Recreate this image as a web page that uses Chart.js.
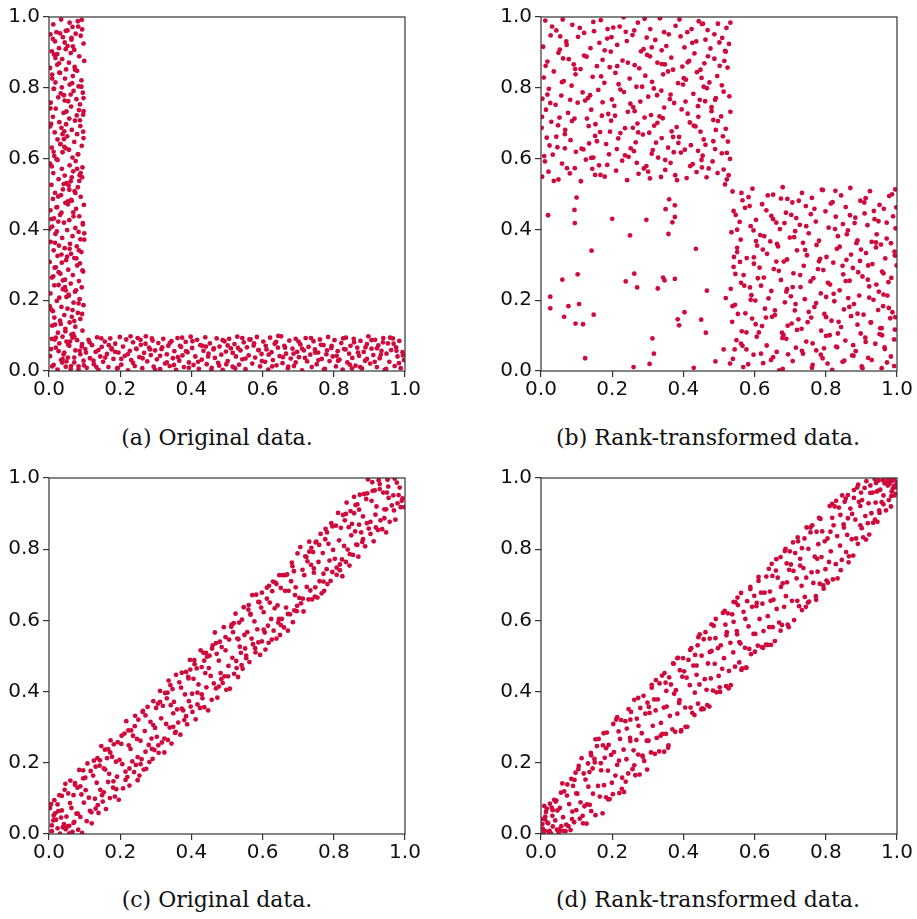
<!DOCTYPE html>
<html>
<head>
<meta charset="utf-8">
<script src="https://cdn.jsdelivr.net/npm/chart.js@4.4.0/dist/chart.umd.min.js"></script>
<style>
  html, body { margin: 0; padding: 0; background: #fff; }
  body { width: 917px; height: 919px; position: relative; overflow: hidden; }
  canvas { position: absolute; }
  .caption { position: absolute; width: 400px; text-align: center; font-family: 'DejaVu Serif', serif; font-size: 22px; line-height: 26px; color: #111; }
</style>
</head>
<body>
<canvas id="panel-a" width="424" height="410" style="left:1px;top:1px;width:424px;height:410px"></canvas>
<canvas id="panel-b" width="424" height="410" style="left:493px;top:1px;width:424px;height:410px"></canvas>
<canvas id="panel-c" width="424" height="412" style="left:1px;top:462px;width:424px;height:412px"></canvas>
<canvas id="panel-d" width="424" height="412" style="left:493px;top:462px;width:424px;height:412px"></canvas>
<script>
const RED = '#cf0a3c';
const AXIS = '#333';
const tickValues = [0, 0.2, 0.4, 0.6, 0.8, 1.0];
const captions = ['(a) Original data.', '(b) Rank-transformed data.', '(c) Original data.', '(d) Rank-transformed data.'];

// x,y pairs
// (a) original data: the upright strip and the flat strip
const aVertical = [
.034,.993, .081,.988, .012,.979, .066,.972, .093,.965, .047,.961, .021,.957, .075,.953, .058,.984, .004,.951,
.089,.947, .039,.943, .063,.936, .017,.931, .097,.925, .052,.918, .028,.912, .071,.907, .008,.903, .044,.928,
.061,.898, .014,.894, .085,.889, .037,.881, .099,.876, .056,.871, .023,.865, .072,.859, .003,.856, .048,.852,
.079,.848, .031,.842, .009,.837, .067,.833, .045,.826, .091,.821, .018,.815, .058,.809, .083,.804, .036,.801,
.013,.797, .069,.791, .095,.786, .042,.779, .026,.773, .077,.768, .054,.762, .005,.758, .087,.753, .033,.784,
.062,.747, .019,.741, .084,.737, .041,.729, .096,.724, .011,.718, .057,.713, .073,.707, .029,.703, .049,.733,
.006,.698, .088,.692, .035,.687, .064,.681, .016,.674, .079,.669, .051,.663, .097,.658, .024,.654, .043,.677,
.071,.647, .032,.641, .092,.636, .008,.631, .056,.625, .038,.618, .082,.612, .015,.607, .066,.603, .047,.629,
.021,.598, .075,.593, .003,.586, .058,.581, .094,.575, .036,.571, .068,.564, .012,.559, .086,.553, .044,.552,
.093,.547, .027,.542, .061,.536, .049,.531, .007,.526, .081,.519, .039,.513, .072,.508, .017,.503, .055,.524,
.034,.497, .089,.492, .011,.486, .064,.481, .046,.475, .098,.469, .023,.463, .076,.458, .004,.454, .053,.479,
.068,.448, .031,.441, .085,.437, .014,.431, .057,.426, .042,.419, .095,.414, .009,.408, .074,.404, .026,.422,
.051,.398, .083,.393, .018,.387, .066,.381, .037,.376, .099,.371, .005,.365, .059,.359, .028,.354, .078,.352,
.044,.347, .013,.341, .091,.336, .062,.331, .024,.325, .071,.319, .048,.313, .002,.308, .087,.304, .035,.329,
.079,.298, .019,.293, .054,.286, .096,.281, .032,.275, .067,.271, .008,.264, .045,.258, .084,.254, .027,.279,
.061,.247, .015,.242, .092,.236, .039,.231, .073,.224, .004,.219, .056,.213, .029,.207, .086,.203, .047,.228,
.022,.198, .069,.193, .097,.186, .035,.181, .052,.176, .011,.169, .081,.164, .043,.158, .064,.153, .006,.174,
.088,.147, .031,.142, .058,.137, .017,.131, .074,.125, .046,.119, .094,.114, .025,.108, .063,.103, .009,.128,
.052,.962, .018,.884, .091,.803, .067,.917, .004,.742, .038,.669, .079,.571, .026,.493, .095,.418, .058,.345,
.012,.267, .083,.191, .046,.112, .071,.038, .031,.954, .009,.826, .087,.708, .043,.633, .064,.547, .021,.462,
.099,.389, .036,.306, .076,.228, .015,.151, .054,.074, .092,.992, .028,.869, .061,.781, .003,.691, .081,.612,
.041,.528, .069,.437, .017,.362, .094,.284, .049,.209, .033,.133, .086,.057, .011,.938, .073,.851, .044,.764,
.096,.676, .024,.596, .057,.512, .007,.429, .084,.341, .039,.256, .066,.172, .019,.094, .098,.016, .047,.909,
.014,.797, .078,.722, .032,.641, .089,.559, .062,.483, .001,.401, .051,.323, .027,.243, .093,.161, .059,.083,
.037,.024, .082,.973, .023,.895, .065,.813, .097,.734, .042,.655, .008,.578, .074,.503, .035,.447, .088,.372,
.016,.292, .055,.216, .071,.141, .006,.062, .063,.941, .029,.843, .097,.771, .048,.697, .013,.619, .085,.537,
.053,.471, .022,.394, .077,.318, .045,.237, .002,.183, .068,.105, .041,.047
];
const aHorizontal = [
.003,.042, .008,.091, .013,.017, .019,.066, .024,.004, .029,.078, .034,.031, .038,.097, .043,.052, .047,.012, .049,.083,
.053,.038, .057,.071, .061,.006, .066,.094, .071,.024, .074,.058, .079,.087, .083,.013, .088,.047, .093,.076, .097,.029,
.102,.062, .106,.009, .111,.088, .115,.036, .121,.073, .126,.019, .131,.054, .135,.095, .139,.003, .144,.041, .148,.068,
.152,.026, .157,.083, .163,.048, .167,.011, .172,.092, .176,.061, .181,.034, .186,.077, .191,.007, .195,.052, .199,.096,
.203,.018, .208,.069, .213,.043, .217,.089, .222,.002, .227,.057, .231,.031, .236,.081, .241,.014, .245,.063, .249,.093,
.254,.039, .258,.074, .262,.008, .267,.051, .272,.098, .276,.027, .281,.066, .286,.045, .291,.086, .294,.012, .298,.058,
.303,.033, .307,.079, .312,.005, .316,.062, .321,.091, .326,.021, .331,.047, .335,.071, .339,.014, .344,.084, .348,.036,
.352,.056, .357,.003, .361,.093, .366,.029, .371,.068, .375,.044, .379,.011, .384,.082, .389,.053, .393,.024, .398,.097,
.402,.065, .406,.017, .411,.041, .416,.088, .421,.006, .425,.073, .429,.032, .434,.057, .439,.095, .443,.019, .448,.049,
.452,.078, .457,.009, .462,.061, .466,.037, .471,.092, .475,.023, .479,.069, .484,.046, .488,.003, .493,.084, .497,.055,
.502,.028, .506,.091, .511,.064, .516,.012, .521,.076, .525,.041, .529,.097, .534,.018, .538,.058, .543,.033, .547,.081,
.552,.005, .556,.067, .561,.044, .566,.089, .571,.021, .575,.072, .579,.038, .584,.096, .588,.059, .593,.013, .597,.048,
.602,.083, .607,.026, .611,.061, .616,.004, .621,.094, .625,.053, .629,.031, .634,.077, .639,.016, .643,.066, .648,.042,
.652,.098, .656,.022, .661,.071, .666,.049, .671,.008, .675,.086, .679,.035, .684,.063, .688,.014, .693,.091, .697,.054,
.702,.039, .706,.075, .711,.002, .716,.058, .721,.093, .725,.027, .729,.068, .734,.046, .738,.011, .743,.084, .747,.061,
.752,.019, .756,.052, .761,.089, .766,.034, .771,.073, .775,.006, .779,.047, .784,.096, .788,.028, .793,.065, .797,.041,
.802,.087, .806,.013, .811,.056, .816,.032, .821,.079, .825,.004, .829,.062, .834,.094, .838,.024, .843,.049, .847,.071,
.852,.037, .856,.091, .861,.015, .866,.066, .871,.043, .875,.085, .879,.007, .884,.054, .888,.029, .893,.076, .897,.098,
.902,.021, .906,.063, .911,.045, .916,.088, .921,.011, .925,.072, .929,.036, .934,.057, .939,.093, .943,.003, .948,.049,
.952,.078, .956,.026, .961,.059, .966,.092, .971,.014, .975,.067, .979,.041, .984,.085, .988,.008, .993,.053, .997,.031,
.027,.056, .114,.081, .236,.023, .318,.067, .447,.041, .563,.089, .672,.012, .781,.058, .893,.034, .968,.077,
.071,.097, .158,.038, .284,.061, .393,.009, .502,.072, .617,.046, .736,.093, .845,.018, .921,.064, .049,.027,
.186,.054, .257,.088, .362,.039, .478,.015, .589,.059, .701,.083, .808,.043, .947,.006, .092,.069, .133,.011,
.221,.047, .339,.079, .419,.026, .531,.065, .644,.099, .757,.031, .868,.052, .983,.022, .016,.089, .168,.073,
.298,.003, .374,.094, .463,.064, .598,.028, .687,.049, .794,.071, .906,.087, .062,.014, .203,.034, .271,.077,
.351,.017, .488,.087, .552,.035, .663,.066, .772,.004, .857,.081, .932,.046, .104,.052, .194,.009, .312,.043,
.431,.071, .516,.051, .627,.013, .719,.037, .833,.061, .958,.094, .038,.034, .147,.092, .246,.062, .385,.056,
.456,.002, .576,.078, .693,.024, .812,.029, .889,.067, .994,.044, .083,.004, .176,.064, .263,.036, .403,.084,
.523,.007, .609,.071, .748,.052, .874,.011, .915,.026, .125,.029, .229,.098, .331,.024, .441,.069, .543,.093,
.657,.039, .764,.074, .826,.092, .976,.057, .009,.013, .139,.059, .289,.092, .368,.071, .498,.019, .638,.082,
.711,.063, .851,.007, .938,.081
];

// (b) rank-transformed data: two dense blocks and the sparse corner
const bUpperLeft = [
.012,.990, .043,.962, .088,.978, .121,.955, .168,.991, .203,.970, .238,.958, .272,.984, .307,.966, .334,.996, .378,.975, .411,.957, .443,.988, .468,.963, .497,.981, .521,.969, .061,.993, .149,.960, .221,.973, .359,.951, .291,.995, .452,.980,
.027,.948, .071,.931, .104,.944, .139,.912, .186,.939, .214,.921, .257,.949, .288,.909, .321,.935, .352,.918, .392,.945, .425,.927, .476,.911, .509,.941, .006,.916, .053,.908, .164,.927, .241,.932, .339,.906, .403,.914, .462,.936, .528,.924,
.018,.874, .049,.899, .092,.866, .128,.888, .157,.861, .196,.902, .229,.877, .263,.864, .298,.893, .327,.871, .366,.885, .397,.860, .431,.897, .459,.869, .487,.882, .517,.904, .078,.881, .173,.879, .281,.903, .348,.866, .416,.876, .502,.862,
.036,.846, .064,.819, .111,.853, .145,.831, .178,.814, .209,.842, .249,.826, .276,.855, .312,.817, .343,.838, .371,.851, .407,.823, .438,.844, .473,.815, .495,.833, .524,.857, .008,.829, .097,.838, .193,.858, .293,.834, .385,.813, .451,.828,
.022,.797, .057,.778, .086,.806, .132,.771, .161,.794, .199,.767, .233,.788, .268,.803, .301,.775, .338,.792, .362,.768, .399,.809, .428,.783, .466,.799, .491,.771, .513,.789, .004,.769, .117,.787, .218,.810, .317,.798, .446,.766, .529,.776,
.041,.752, .076,.729, .103,.758, .141,.738, .171,.721, .206,.749, .244,.732, .279,.761, .309,.723, .346,.744, .374,.757, .412,.727, .441,.748, .479,.734, .506,.719, .014,.738, .124,.764, .189,.726, .259,.745, .333,.719, .395,.739, .461,.762,
.029,.704, .068,.681, .094,.713, .134,.692, .166,.675, .197,.707, .236,.686, .271,.699, .304,.673, .342,.714, .381,.689, .418,.702, .448,.676, .484,.709, .519,.684, .002,.687, .052,.716, .153,.697, .223,.672, .318,.693, .367,.677, .434,.691,
.016,.659, .046,.632, .083,.652, .119,.626, .152,.664, .183,.641, .217,.657, .252,.629, .286,.668, .323,.645, .357,.631, .388,.661, .421,.638, .457,.654, .489,.627, .525,.648, .067,.669, .135,.643, .266,.646, .339,.658, .404,.625, .511,.663,
.033,.611, .059,.586, .098,.619, .126,.597, .163,.581, .191,.612, .228,.594, .261,.621, .296,.579, .329,.603, .364,.588, .393,.617, .426,.584, .454,.608, .482,.592, .508,.615, .011,.592, .147,.603, .246,.605, .311,.614, .441,.622, .531,.599,
.021,.563, .049,.541, .081,.558, .112,.536, .144,.571, .179,.549, .211,.566, .242,.539, .274,.557, .306,.544, .349,.568, .377,.553, .409,.545, .437,.562, .465,.547, .496,.559, .522,.541, .003,.549, .167,.554, .289,.572, .452,.575, .513,.569,
.031,.973, .147,.986, .262,.962, .389,.993, .487,.951, .072,.921, .198,.943, .311,.914, .436,.931, .519,.902,
.013,.862, .121,.891, .244,.871, .357,.846, .469,.889, .059,.816, .169,.832, .284,.803, .401,.827, .508,.807,
.026,.757, .138,.779, .251,.755, .364,.781, .479,.745, .087,.706, .208,.721, .327,.701, .442,.718, .532,.732,
.043,.662, .157,.649, .273,.674, .386,.644, .491,.681, .009,.607, .114,.628, .236,.609, .349,.596, .462,.639,
.073,.573, .186,.582, .301,.563, .419,.579, .527,.553, .054,.945, .179,.906, .297,.942, .412,.872, .501,.928,
.096,.853, .223,.795, .339,.867, .457,.803, .018,.781, .129,.713, .263,.734, .371,.661, .489,.766, .067,.629,
.194,.676, .314,.624, .429,.693, .522,.616, .036,.537, .152,.554, .269,.588, .382,.539, .471,.572, .003,.718,
.109,.969, .232,.999, .346,.957, .455,.981, .082,.766, .214,.861, .326,.779, .448,.851, .515,.876, .048,.694,
.173,.759, .291,.716, .406,.761, .497,.706, .024,.637, .141,.602, .258,.687, .373,.618, .484,.649, .062,.883,
.187,.966, .306,.889, .423,.966, .532,.984, .095,.573, .213,.627, .337,.548, .451,.596, .517,.527
];
const bLowerRight = [
.538,.507, .566,.482, .594,.515, .621,.471, .652,.498, .679,.519, .706,.476, .733,.503, .761,.489, .789,.512, .814,.473, .843,.496, .869,.517, .897,.481, .924,.508, .951,.469, .978,.494, .995,.513, .583,.491, .692,.486, .827,.509, .912,.488,
.547,.441, .573,.461, .604,.427, .633,.454, .661,.419, .688,.447, .717,.432, .744,.466, .772,.422, .799,.451, .828,.436, .856,.463, .881,.418, .909,.445, .937,.429, .963,.458, .989,.437, .558,.421, .647,.438, .758,.443, .868,.440, .998,.462,
.535,.392, .561,.371, .589,.409, .616,.384, .644,.366, .671,.401, .699,.377, .727,.413, .752,.389, .781,.368, .808,.405, .834,.381, .862,.397, .889,.369, .917,.412, .943,.386, .971,.374, .996,.403, .604,.367, .714,.395, .848,.415, .929,.365,
.551,.348, .578,.319, .607,.354, .635,.331, .663,.359, .691,.315, .719,.341, .747,.327, .774,.356, .802,.322, .831,.345, .858,.314, .886,.361, .913,.333, .941,.349, .967,.318, .993,.337, .542,.322, .623,.343, .736,.362, .871,.329, .955,.357,
.541,.294, .569,.271, .598,.303, .626,.264, .654,.288, .682,.309, .709,.276, .738,.297, .765,.262, .793,.285, .821,.306, .849,.273, .876,.291, .903,.267, .931,.302, .958,.281, .984,.263, .559,.308, .668,.283, .781,.310, .891,.279, .999,.298,
.533,.232, .562,.249, .591,.214, .618,.241, .647,.226, .674,.257, .702,.211, .729,.237, .757,.253, .786,.219, .812,.244, .839,.228, .867,.255, .894,.213, .922,.239, .949,.224, .976,.251, .587,.236, .691,.231, .801,.209, .918,.258, .962,.216,
.545,.187, .574,.163, .602,.199, .629,.176, .657,.158, .685,.194, .713,.171, .741,.203, .768,.181, .796,.161, .824,.197, .851,.174, .879,.189, .906,.159, .934,.201, .961,.183, .987,.166, .553,.161, .639,.205, .752,.167, .863,.206, .947,.172,
.537,.139, .564,.112, .593,.148, .621,.127, .649,.153, .677,.108, .704,.134, .732,.119, .759,.151, .787,.114, .816,.142, .843,.124, .871,.155, .898,.106, .926,.137, .953,.121, .981,.149, .612,.109, .723,.146, .834,.106, .889,.131, .994,.117,
.549,.087, .577,.061, .606,.097, .634,.072, .662,.054, .689,.091, .716,.066, .745,.083, .773,.058, .801,.099, .829,.069, .855,.086, .884,.056, .911,.094, .939,.077, .966,.062, .992,.089, .566,.071, .681,.102, .763,.078, .877,.073, .958,.101,
.539,.034, .568,.011, .597,.046, .624,.022, .652,.039, .679,.006, .707,.028, .736,.049, .763,.017, .791,.036, .818,.003, .847,.026, .874,.044, .901,.013, .929,.031, .957,.008, .983,.041, .582,.019, .694,.047, .805,.021, .919,.037, .972,.024,
.563,.503, .674,.487, .792,.511, .908,.476, .986,.499, .541,.452, .652,.429, .768,.458, .883,.433, .971,.419,
.597,.397, .711,.378, .826,.401, .941,.363, .551,.336, .666,.352, .784,.317, .899,.343, .994,.326, .614,.292,
.728,.271, .847,.297, .962,.276, .571,.241, .689,.224, .806,.249, .922,.207, .538,.183, .657,.171, .773,.192,
.889,.162, .977,.178, .603,.132, .719,.116, .836,.139, .951,.104, .562,.077, .678,.093, .795,.064, .912,.082,
.531,.021, .646,.031, .761,.009, .878,.043, .992,.014, .586,.466, .703,.441, .819,.477, .935,.452, .627,.381,
.745,.409, .859,.386, .983,.361, .546,.274, .661,.309, .778,.288, .896,.311, .589,.201, .707,.237, .822,.218,
.942,.244, .632,.151, .749,.138, .866,.181, .995,.152, .577,.109, .693,.128, .811,.101, .927,.137, .618,.049,
.733,.057, .852,.029, .965,.067, .544,.061, .669,.002, .786,.046, .903,.008, .551,.399, .637,.496, .742,.342,
.856,.254, .973,.213, .598,.321, .715,.189, .832,.067, .948,.423, .609,.262, .724,.481, .839,.351, .957,.121,
.684,.418, .801,.152, .919,.298
];
const bCorner = [
.020,.440, .094,.455, .095,.418, .100,.490, .142,.340, .060,.258, .103,.273, .026,.210, .026,.177, .077,.183, .107,.189, .065,.153,
.097,.134, .118,.132, .148,.159, .124,.036, .200,.430, .250,.383, .262,.275, .238,.253, .270,.236, .260,.011, .296,.427, .305,.020,
.313,.092, .317,.049, .328,.233, .343,.264, .347,.256, .376,.260, .350,.457, .360,.485, .376,.468, .376,.435, .369,.420, .358,.387,
.384,.146, .388,.129, .403,.166, .435,.345, .466,.227, .450,.145, .463,.108, .429,.009, .490,.027, .513,.061, .519,.206
];

// (c) original data: the diagonal band
const cBand = [
.003,.073, .006,.084, .008,.008, .012,.038, .015,.095, .017,.058, .02,.04, .024,.016, .026,.064, .029,.109, .031,.001, .034,.046, .036,.066, .039,.019, .042,.028, .044,.124, .047,.013, .049,.049,
.051,.021, .054,.114, .057,.023, .06,.15, .063,.073, .066,.006, .069,.109, .071,.034, .073,.143, .077,.057, .08,.13, .082,.012, .085,.18, .088,.048, .091,.111, .093,.003, .096,.156, .098,.088,
.103,.123, .106,.036, .108,.198, .112,.102, .115,.065, .117,.177, .12,.03, .124,.164, .126,.206, .129,.099, .131,.071, .134,.144, .136,.213, .139,.059, .142,.192, .144,.124, .147,.247, .149,.109,
.151,.091, .154,.184, .157,.237, .16,.07, .163,.213, .166,.146, .169,.169, .171,.101, .173,.263, .177,.217, .18,.13, .182,.252, .185,.105, .188,.203, .191,.161, .193,.258, .196,.096, .198,.208,
.203,.253, .206,.196, .208,.128, .212,.282, .215,.175, .217,.317, .22,.16, .224,.249, .226,.136, .229,.239, .231,.291, .234,.204, .236,.276, .239,.174, .242,.332, .244,.194, .247,.267, .249,.151,
.251,.321, .254,.164, .257,.262, .26,.21, .263,.343, .266,.181, .269,.289, .271,.231, .273,.183, .277,.357, .28,.25, .282,.202, .285,.315, .288,.268, .291,.211, .293,.373, .296,.236, .298,.298,
.303,.273, .306,.366, .308,.228, .312,.402, .315,.325, .317,.257, .32,.36, .324,.229, .326,.396, .329,.309, .331,.381, .334,.264, .336,.431, .339,.299, .342,.362, .344,.254, .347,.407, .349,.339,
.351,.371, .354,.284, .357,.447, .36,.35, .363,.313, .366,.426, .369,.279, .371,.411, .373,.453, .377,.347, .38,.32, .382,.392, .385,.455, .388,.308, .391,.441, .393,.373, .396,.489, .398,.358,
.403,.343, .406,.436, .408,.488, .412,.322, .415,.465, .417,.397, .42,.42, .424,.354, .426,.516, .429,.469, .431,.381, .434,.509, .436,.356, .439,.452, .442,.412, .444,.498, .447,.347, .449,.466,
.451,.501, .454,.444, .457,.377, .46,.53, .463,.423, .466,.566, .469,.409, .471,.506, .473,.383, .477,.487, .48,.54, .482,.452, .485,.525, .488,.424, .491,.581, .493,.443, .496,.516, .498,.405,
.503,.443, .506,.546, .508,.408, .512,.582, .515,.495, .517,.567, .52,.45, .524,.619, .526,.486, .529,.549, .531,.441, .534,.594, .536,.526, .539,.509, .542,.602, .544,.464, .547,.637, .549,.559,
.551,.521, .554,.494, .557,.567, .56,.63, .563,.483, .566,.616, .569,.549, .571,.671, .573,.533, .577,.597, .58,.51, .582,.672, .585,.575, .588,.538, .591,.651, .593,.503, .596,.636, .598,.678,
.603,.623, .606,.566, .608,.518, .612,.692, .615,.585, .617,.537, .62,.65, .624,.604, .626,.546, .629,.709, .631,.571, .634,.634, .636,.706, .639,.549, .642,.642, .644,.594, .647,.727, .649,.559,
.651,.691, .654,.604, .657,.727, .66,.58, .663,.683, .666,.636, .669,.729, .671,.571, .673,.683, .677,.617, .68,.71, .682,.762, .685,.595, .688,.738, .691,.671, .693,.693, .696,.626, .698,.788,
.703,.663, .706,.806, .708,.648, .712,.742, .715,.625, .717,.727, .72,.78, .724,.694, .726,.766, .729,.659, .731,.821, .734,.684, .736,.756, .739,.659, .742,.792, .744,.734, .747,.667, .749,.819,
.751,.821, .754,.664, .757,.764, .76,.71, .763,.843, .766,.676, .769,.789, .771,.731, .773,.683, .777,.857, .78,.744, .782,.702, .785,.815, .788,.768, .791,.711, .793,.873, .796,.736, .798,.798,
.803,.773, .806,.866, .808,.728, .812,.902, .815,.825, .817,.757, .82,.86, .824,.724, .826,.896, .829,.809, .831,.881, .834,.764, .836,.931, .839,.799, .842,.862, .844,.754, .847,.907, .849,.839,
.851,.871, .854,.784, .857,.947, .86,.85, .863,.813, .866,.926, .869,.779, .871,.911, .873,.953, .877,.847, .88,.82, .882,.892, .885,.955, .888,.808, .891,.941, .893,.873, .896,.996, .898,.858,
.903,.843, .906,.936, .908,.988, .912,.822, .915,.965, .917,.897, .92,.92, .924,.854, .926,.994, .929,.969, .931,.881, .936,.856, .939,.959, .942,.912, .947,.847, .949,.959,
.951,.995, .954,.944, .957,.877, .963,.923, .969,.909, .971,.998, .973,.883, .977,.987, .982,.952, .988,.918, .993,.943, .998,.918,
.013,.052, .088,.134, .172,.229, .257,.196, .341,.418, .429,.392, .513,.588, .598,.541, .684,.752, .771,.709,
.857,.901, .942,.887, .036,.107, .119,.061, .204,.276, .289,.239, .373,.352, .458,.521, .541,.474, .627,.682,
.713,.661, .796,.864, .882,.828, .967,.951, .057,.002, .143,.207, .226,.184, .312,.371, .397,.462, .484,.435,
.566,.618, .651,.587, .737,.804, .823,.771, .909,.964, .991,.936, .024,.083, .102,.158, .189,.126, .271,.333,
.356,.287, .441,.509, .527,.466, .612,.661, .697,.641, .781,.847, .866,.812, .953,.976, .069,.031, .154,.117,
.241,.303, .324,.268, .409,.477, .496,.553, .579,.522, .663,.727, .748,.693, .834,.899, .918,.861, .046,.141,
.131,.189, .215,.152, .301,.354, .385,.331, .469,.536, .554,.501, .639,.702, .723,.778, .808,.748, .894,.957,
.979,.929, .081,.057, .166,.238, .249,.216, .333,.397, .417,.364, .504,.472, .588,.652, .671,.618, .759,.812,
.845,.786, .929,.983, .008,.024, .096,.179, .181,.148, .264,.346, .349,.301, .436,.487, .519,.592, .603,.574,
.689,.628, .776,.828, .861,.924, .947,.912, .059,.087, .137,.081, .223,.291, .307,.249, .392,.437, .477,.414,
.561,.643, .646,.604, .731,.793, .817,.741, .903,.877, .073,.138, .158,.181, .293,.306, .402,.394, .532,.547,
.618,.697, .744,.746, .871,.869, .985,.973
];

// (d) rank-transformed data: the diagonal band
const dBand = [
.002,.042, .005,.015, .009,.079, .011,.009, .014,.062, .018,.032, .02,.03, .022,.006, .025,.085, .028,.002, .032,.051, .033,.021, .037,.096, .04,.038, .041,.091, .045,.012, .046,.066, .05,.005, .004,.028, .012,.049, .007,.003, .03,.074,
.051,.012, .053,.073, .057,.022, .06,.142, .062,.047, .065,.12, .069,.008, .073,.108, .074,.139, .077,.022, .079,.084, .083,.011, .085,.155, .088,.063, .09,.135, .093,.033, .097,.172, .099,.114,
.102,.113, .105,.182, .109,.043, .111,.089, .114,.213, .118,.03, .12,.17, .122,.078, .125,.153, .128,.029, .132,.198, .133,.133, .137,.082, .14,.228, .141,.064, .145,.184, .146,.113, .15,.211,
.151,.201, .153,.053, .157,.247, .16,.135, .162,.267, .165,.105, .169,.179, .173,.058, .174,.249, .177,.137, .179,.214, .183,.103, .185,.285, .188,.178, .19,.25, .193,.098, .197,.222, .199,.144,
.202,.112, .205,.23, .209,.164, .211,.321, .214,.194, .218,.288, .22,.115, .222,.267, .225,.32, .228,.158, .232,.237, .233,.118, .237,.317, .24,.21, .241,.296, .245,.17, .246,.351, .25,.27,
.251,.261, .253,.343, .257,.182, .26,.235, .262,.377, .265,.165, .269,.324, .273,.223, .274,.304, .277,.167, .279,.354, .283,.283, .285,.22, .288,.388, .29,.205, .293,.338, .297,.262, .299,.369,
.302,.262, .305,.34, .309,.229, .311,.411, .314,.304, .318,.378, .32,.225, .322,.347, .325,.27, .328,.378, .332,.232, .333,.423, .337,.312, .34,.445, .341,.281, .345,.355, .346,.231, .35,.425,
.351,.281, .353,.358, .357,.242, .36,.44, .362,.332, .365,.42, .369,.294, .373,.478, .374,.394, .377,.287, .379,.404, .383,.338, .385,.495, .388,.368, .39,.46, .393,.288, .397,.442, .399,.494,
.402,.457, .405,.355, .409,.439, .411,.301, .414,.489, .418,.418, .42,.355, .422,.522, .425,.34, .428,.473, .432,.397, .433,.503, .437,.447, .44,.53, .441,.366, .445,.42, .446,.561, .45,.35,
.451,.501, .453,.353, .457,.547, .46,.435, .462,.567, .465,.405, .469,.479, .473,.358, .474,.549, .477,.437, .479,.514, .483,.403, .485,.585, .488,.478, .49,.55, .493,.398, .497,.522, .499,.444,
.502,.412, .505,.53, .509,.464, .511,.621, .514,.494, .518,.588, .52,.415, .522,.567, .525,.62, .528,.458, .532,.537, .533,.418, .537,.617, .54,.51, .541,.596, .545,.47, .546,.651, .55,.57,
.551,.561, .553,.643, .557,.482, .56,.535, .562,.677, .565,.465, .569,.624, .573,.523, .574,.604, .577,.467, .579,.654, .583,.583, .585,.52, .588,.688, .59,.505, .593,.638, .597,.562, .599,.669,
.602,.562, .605,.64, .609,.529, .611,.711, .614,.604, .618,.678, .62,.525, .622,.647, .625,.57, .628,.678, .632,.532, .633,.723, .637,.612, .64,.745, .641,.581, .645,.655, .646,.531, .65,.725,
.651,.581, .653,.658, .657,.542, .66,.74, .662,.632, .665,.72, .669,.594, .673,.778, .674,.694, .677,.587, .679,.704, .683,.638, .685,.795, .688,.668, .69,.76, .693,.588, .697,.742, .699,.794,
.702,.757, .705,.655, .709,.739, .711,.601, .714,.789, .718,.718, .72,.655, .722,.822, .725,.64, .728,.773, .732,.697, .733,.803, .737,.747, .74,.83, .741,.666, .745,.72, .746,.861, .75,.65,
.751,.801, .753,.653, .757,.847, .76,.735, .762,.867, .765,.705, .769,.779, .773,.658, .774,.849, .777,.737, .779,.814, .783,.703, .785,.885, .788,.778, .79,.85, .793,.698, .797,.822, .799,.744,
.802,.712, .805,.83, .809,.764, .811,.921, .814,.794, .818,.888, .82,.715, .822,.867, .825,.92, .828,.758, .832,.837, .833,.718, .837,.917, .84,.81, .841,.896, .845,.77, .846,.951, .85,.87,
.851,.861, .853,.933, .857,.792, .86,.84, .862,.952, .865,.78, .869,.914, .873,.828, .874,.899, .877,.782, .879,.944, .883,.883, .885,.83, .888,.973, .89,.815, .893,.933, .897,.867, .899,.959,
.902,.938, .905,.833, .909,.972, .911,.893, .914,.991, .918,.873, .92,.929, .922,.841, .925,.979, .928,.901, .932,.959, .933,.874, .937,.997, .94,.931, .941,.986, .945,.877, .946,.964, .95,.909,
.951,.902, .953,.967, .957,.932, .96,.994, .962,.951, .965,.985, .969,.909, .973,.998, .974,.979, .977,.938, .979,.983, .983,.92, .985,.991, .988,.97, .99,.996, .993,.951, .997,.974, .999,.988, .985,.962, .992,.978, .996,.955, .98,.995,
.011,.041, .094,.152, .176,.283, .262,.193, .347,.452, .431,.334, .516,.627, .601,.512, .687,.801, .772,.668,
.856,.942, .938,.883, .033,.067, .117,.051, .203,.309, .286,.217, .371,.479, .457,.351, .541,.652, .624,.523,
.708,.819, .794,.689, .879,.966, .962,.926, .056,.116, .141,.221, .227,.127, .311,.419, .394,.292, .479,.589,
.563,.461, .648,.759, .733,.629, .818,.927, .901,.859, .984,.949, .024,.009, .106,.191, .189,.097, .273,.382,
.358,.249, .442,.553, .527,.409, .611,.722, .696,.581, .781,.888, .864,.763, .948,.993, .071,.026, .153,.266,
.238,.147, .323,.432, .406,.301, .491,.604, .576,.467, .661,.772, .744,.638, .829,.936, .913,.827, .043,.094,
.129,.083, .214,.328, .298,.181, .383,.494, .467,.362, .552,.664, .637,.531, .721,.833, .806,.706, .891,.981,
.971,.989, .087,.042, .168,.199, .251,.321, .336,.276, .419,.517, .503,.399, .588,.694, .673,.571, .757,.861,
.842,.741, .925,.958, .016,.071, .099,.067, .183,.241, .268,.264, .352,.402, .437,.473, .521,.558, .606,.649,
.691,.707, .776,.773, .862,.887, .943,.962, .062,.009, .136,.174, .219,.206, .303,.357, .389,.376, .474,.511,
.557,.539, .643,.681, .728,.754, .813,.849, .897,.921, .992,.999
];

function toPoints(...lists) {
  const pts = [];
  lists.forEach(list => {
    for (let i = 0; i < list.length; i += 2) pts.push({ x: list[i], y: list[i + 1] });
  });
  return pts;
}

// box round the plot area, like matplotlib spines
const frame = {
  id: 'frame',
  afterDatasetsDraw(chart) {
    const { ctx, chartArea: a } = chart;
    ctx.save();
    ctx.strokeStyle = AXIS;
    ctx.lineWidth = 1.2;
    ctx.strokeRect(a.left, a.top, a.right - a.left, a.bottom - a.top);
    ctx.restore();
  }
};

function axisOptions(isX) {
  return {
    type: 'linear',
    min: 0,
    max: 1,
    afterBuildTicks: s => { s.ticks = tickValues.map(v => ({ value: v })); },
    afterFit: s => { if (isX) s.height = 40; else s.width = 48; },
    ticks: {
      callback: v => v.toFixed(1),
      color: '#111',
      font: { family: 'DejaVu Sans', size: 20 },
      padding: isX ? 1 : 3,
      maxRotation: 0,
      autoSkip: false
    },
    grid: { display: true, drawOnChartArea: false, drawTicks: true, tickLength: 6, color: AXIS, lineWidth: 1.2 },
    border: { display: false }
  };
}

function drawPanel(id, points) {
  const ctx = document.getElementById(id).getContext('2d');
  return new Chart(ctx, {
    type: 'scatter',
    data: {
      datasets: [{
        data: points,
        pointRadius: 2.4,
        pointHoverRadius: 2.4,
        pointBackgroundColor: RED,
        pointBorderWidth: 0
      }]
    },
    options: {
      responsive: false,
      animation: false,
      events: [],
      layout: { padding: { top: 16, right: 20, left: 0, bottom: 0 } },
      plugins: { legend: { display: false }, tooltip: { enabled: false } },
      scales: { x: axisOptions(true), y: axisOptions(false) }
    },
    plugins: [frame]
  });
}

drawPanel('panel-a', toPoints(aVertical, aHorizontal));
drawPanel('panel-b', toPoints(bUpperLeft, bLowerRight, bCorner));
drawPanel('panel-c', toPoints(cBand));
drawPanel('panel-d', toPoints(dBand));

// captions under each panel
const captionPos = [[17, 425], [508, 425], [17, 887], [508, 887]];
captions.forEach((text, i) => {
  const div = document.createElement('div');
  div.className = 'caption';
  div.style.left = captionPos[i][0] + 'px';
  div.style.top = captionPos[i][1] + 'px';
  div.textContent = text;
  document.body.appendChild(div);
});
</script>
</body>
</html>
